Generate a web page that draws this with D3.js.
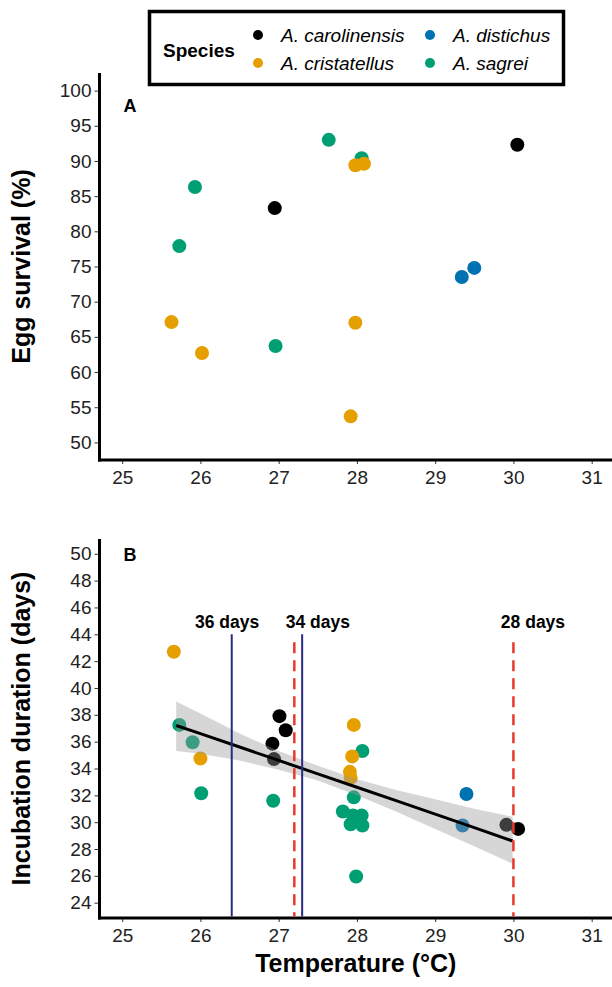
<!DOCTYPE html>
<html>
<head>
<meta charset="utf-8">
<script src="https://cdn.jsdelivr.net/npm/d3@7"></script>
<style>
    body { margin: 0; background: #fff; }
    svg { display: block; font-family: "Liberation Sans", Arial, sans-serif; }
</style>
</head>
<body>
<div id="chart_container"></div>
<script>
// Species and their colours
const species = ["A. carolinensis", "A. cristatellus", "A. distichus", "A. sagrei"];
const speciesColors = ["#000000", "#E69F00", "#0072B2", "#009E73"];

// Panel A: egg survival (%)
const eggTemp     = [25.93, 25.73, 26.96, 27.64, 28.06, 26.95, 30.05, 27.98, 28.09, 25.63, 27.98, 26.02, 27.92, 29.50, 29.34];
const eggSurvival = [86.3, 77.9, 63.7, 93.0, 90.4, 83.3, 92.3, 89.4, 89.6, 67.1, 67.0, 62.7, 53.7, 74.8, 73.5];
const eggSpecies  = ["A. sagrei", "A. sagrei", "A. sagrei", "A. sagrei", "A. sagrei",
                     "A. carolinensis", "A. carolinensis",
                     "A. cristatellus", "A. cristatellus", "A. cristatellus", "A. cristatellus", "A. cristatellus", "A. cristatellus",
                     "A. distichus", "A. distichus"];

// Panel B: incubation duration (days)
const incTemp    = [25.73, 25.90, 26.01, 26.93, 28.07, 27.96, 27.82, 27.95, 28.06, 27.92, 28.07, 27.99,
                    25.66, 26.00, 27.96, 27.94, 27.91, 27.92,
                    27.01, 27.09, 26.92, 26.94, 29.91, 30.06,
                    29.40, 29.35];
const incDays    = [37.25, 35.95, 32.15, 31.6, 35.3, 31.85, 30.8, 30.5, 30.5, 29.85, 29.75, 25.95,
                    42.7, 34.75, 37.25, 34.9, 33.75, 33.3,
                    37.9, 36.85, 35.85, 34.7, 29.8, 29.5,
                    32.1, 29.75];
const incSpecies = ["A. sagrei", "A. sagrei", "A. sagrei", "A. sagrei", "A. sagrei", "A. sagrei",
                    "A. sagrei", "A. sagrei", "A. sagrei", "A. sagrei", "A. sagrei", "A. sagrei",
                    "A. cristatellus", "A. cristatellus", "A. cristatellus", "A. cristatellus", "A. cristatellus", "A. cristatellus",
                    "A. carolinensis", "A. carolinensis", "A. carolinensis", "A. carolinensis", "A. carolinensis", "A. carolinensis",
                    "A. distichus", "A. distichus"];

// Fitted line and confidence band
const fitTemp  = [25.69, 26.0, 26.5, 27.0, 27.5, 28.0, 28.5, 29.0, 29.5, 29.99];
const fitDays  = [37.2, 36.6, 35.6, 34.6, 33.6, 32.6, 31.6, 30.6, 29.6, 28.6];
const fitLower = [35.3, 35.1, 34.6, 33.9, 33.1, 32.0, 30.8, 29.5, 28.2, 26.9];
const fitUpper = [39.0, 38.1, 36.6, 35.3, 34.2, 33.2, 32.4, 31.7, 31.0, 30.4];

// Reference lines
const solidLineTemps  = [26.4, 27.3];
const dashedLineTemps = [27.2, 30.0];
const dayLabels     = ["36 days", "34 days", "28 days"];
const dayLabelTemps = [26.34, 27.50, 30.25];

// Tick values
const xTicks = [25, 26, 27, 28, 29, 30, 31];
const survivalTicks = [50, 55, 60, 65, 70, 75, 80, 85, 90, 95, 100];
const durationTicks = [24, 26, 28, 30, 32, 34, 36, 38, 40, 42, 44, 46, 48, 50];

var width = 612, height = 987;
var left = 99.5, right = 612;

var color = d3.scaleOrdinal().domain(species).range(speciesColors);

var svg = d3.select("#chart_container")
    .append("svg")
    .attr("width", width)
    .attr("height", height);

var x = d3.scaleLinear().domain([24.71, 31.26]).range([left, right]);
var yA = d3.scaleLinear().domain([47.5, 102.5]).range([460, 73]);
var yB = d3.scaleLinear().domain([22.86, 51.1]).range([918, 539]);

function drawAxes(y, ticks, top, bottom) {
    // x axis
    var gx = svg.append("g")
        .attr("transform", `translate(0, ${bottom})`)
        .call(d3.axisBottom(x).tickValues(ticks.x).tickFormat(d3.format("d"))
            .tickSize(4).tickPadding(7).tickSizeOuter(0));
    // y axis
    var gy = svg.append("g")
        .attr("transform", `translate(${left}, 0)`)
        .call(d3.axisLeft(y).tickValues(ticks.y).tickFormat(d3.format("d"))
            .tickSize(5).tickPadding(3).tickSizeOuter(0));
    [gx, gy].forEach(g => {
        g.select(".domain").remove();
        g.selectAll(".tick line").attr("stroke", "#333").attr("stroke-width", 1);
        g.selectAll(".tick text")
            .attr("fill", "#222")
            .style("font-size", "19px")
            .style("font-family", "Liberation Sans, Arial, sans-serif");
    });
    // thick axis lines
    svg.append("line")
        .attr("x1", left).attr("x2", left)
        .attr("y1", top).attr("y2", bottom + 1.5)
        .attr("stroke", "#000").attr("stroke-width", 3);
    svg.append("line")
        .attr("x1", left - 1.5).attr("x2", right)
        .attr("y1", bottom).attr("y2", bottom)
        .attr("stroke", "#000").attr("stroke-width", 3);
}

// ---- Panel A ----
drawAxes(yA, {x: xTicks, y: survivalTicks}, 73, 460);

svg.append("g")
    .selectAll("circle")
    .data(eggTemp)
    .enter().append("circle")
    .attr("cx", (d, i) => x(d))
    .attr("cy", (d, i) => yA(eggSurvival[i]))
    .attr("r", 7)
    .style("fill", (d, i) => color(eggSpecies[i]));

svg.append("text")
    .attr("x", x(25.1))
    .attr("y", yA(97.9))
    .attr("dy", "0.35em")
    .attr("text-anchor", "middle")
    .style("font-size", "18px")
    .style("font-weight", "bold")
    .text("A");

svg.append("text")
    .attr("transform", `translate(30, ${(73 + 460) / 2}) rotate(-90)`)
    .attr("text-anchor", "middle")
    .style("font-size", "25px")
    .style("font-weight", "bold")
    .text("Egg survival (%)");

// ---- Panel B ----
drawAxes(yB, {x: xTicks, y: durationTicks}, 539, 918);

// points
svg.append("g")
    .selectAll("circle")
    .data(incTemp)
    .enter().append("circle")
    .attr("cx", (d, i) => x(d))
    .attr("cy", (d, i) => yB(incDays[i]))
    .attr("r", 7)
    .style("fill", (d, i) => color(incSpecies[i]));

// confidence band over the points
var band = d3.area()
    .x((d, i) => x(d))
    .y0((d, i) => yB(fitLower[i]))
    .y1((d, i) => yB(fitUpper[i]));
svg.append("path")
    .datum(fitTemp)
    .attr("d", band)
    .attr("fill", "#999999")
    .attr("fill-opacity", 0.4);

var fitLine = d3.line()
    .x((d, i) => x(d))
    .y((d, i) => yB(fitDays[i]));
svg.append("path")
    .datum(fitTemp)
    .attr("d", fitLine)
    .attr("fill", "none")
    .attr("stroke", "#000")
    .attr("stroke-width", 3);

// reference lines
svg.selectAll(".solidRef")
    .data(solidLineTemps)
    .enter().append("line")
    .attr("class", "solidRef")
    .attr("x1", d => x(d)).attr("x2", d => x(d))
    .attr("y1", yB(44)).attr("y2", 916.5)
    .attr("stroke", "#2a2a84")
    .attr("stroke-width", 2);

svg.selectAll(".dashedRef")
    .data(dashedLineTemps)
    .enter().append("line")
    .attr("class", "dashedRef")
    .attr("x1", d => x(d)).attr("x2", d => x(d))
    .attr("y1", yB(43.4)).attr("y2", 916.5)
    .attr("stroke", "#e8392c")
    .attr("stroke-width", 2.5)
    .attr("stroke-dasharray", "11,7");

svg.selectAll(".dayLabel")
    .data(dayLabels)
    .enter().append("text")
    .attr("class", "dayLabel")
    .attr("x", (d, i) => x(dayLabelTemps[i]))
    .attr("y", yB(44.45))
    .attr("text-anchor", "middle")
    .style("font-size", "17.5px")
    .style("font-weight", "bold")
    .text(d => d);

svg.append("text")
    .attr("x", x(25.1))
    .attr("y", yB(49.9))
    .attr("dy", "0.35em")
    .attr("text-anchor", "middle")
    .style("font-size", "18px")
    .style("font-weight", "bold")
    .text("B");

svg.append("text")
    .attr("transform", `translate(30, ${(539 + 918) / 2}) rotate(-90)`)
    .attr("text-anchor", "middle")
    .style("font-size", "25px")
    .style("font-weight", "bold")
    .text("Incubation duration (days)");

svg.append("text")
    .attr("x", (left + right) / 2)
    .attr("y", 972)
    .attr("text-anchor", "middle")
    .style("font-size", "25px")
    .style("font-weight", "bold")
    .text("Temperature (°C)");

// ---- Legend ----
var legendBox = svg.append("g");
legendBox.append("rect")
    .attr("x", 149.5).attr("y", 11.5)
    .attr("width", 414).attr("height", 73)
    .attr("fill", "#fff")
    .attr("stroke", "#000")
    .attr("stroke-width", 3.5);

legendBox.append("text")
    .attr("x", 163)
    .attr("y", 57)
    .style("font-size", "19px")
    .style("font-weight", "bold")
    .text("Species");

var legend = legendBox.selectAll(".legend")
    .data(species)
    .enter().append("g")
    .attr("class", "legend")
    .attr("transform", (d, i) => `translate(${i < 2 ? 258 : 430}, ${i % 2 === 0 ? 35 : 63})`);

legend.append("circle")
    .attr("r", 5)
    .style("fill", d => color(d));

legend.append("text")
    .attr("x", 23)
    .attr("y", 7)
    .style("font-size", "19px")
    .style("font-style", "italic")
    .text(d => d);
</script>
</body>
</html>
